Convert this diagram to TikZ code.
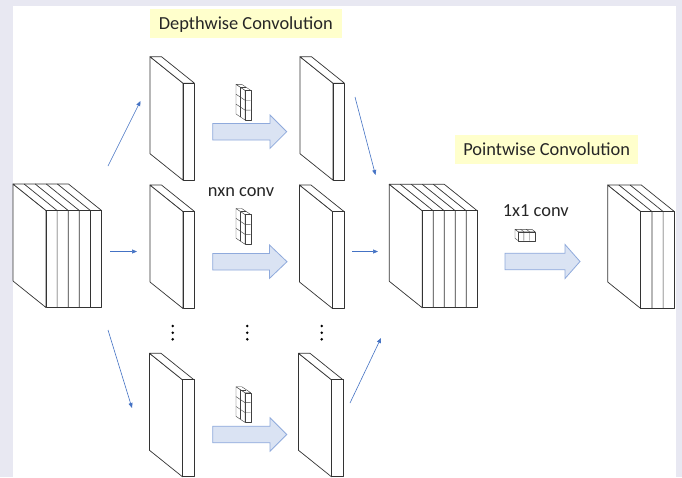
\documentclass[tikz,border=0pt]{standalone}
\RequirePackage{fontspec}
\setmainfont{Carlito}
\RequirePackage{tikz}
\usetikzlibrary{arrows.meta}

\definecolor{bgpanel}{HTML}{E8E8F2}
\definecolor{arrowblue}{HTML}{4472C4}
\definecolor{arrowfill}{HTML}{DAE3F3}
\definecolor{arrowline}{HTML}{8FAADC}
\definecolor{hlyellow}{HTML}{FFFFCC}

\newcommand{\diagfont}{\fontsize{18.4}{22}\selectfont}

% stack of n thin layers: style, back top left x, y, n, width, depth x, depth y, height
\newcommand{\layerstack}[8]{%
    \path[#1] (#2,#3) -- ++(0,#8) -- ++(#6,#7) -- ++(0,-#8) -- cycle;
    \path[#1] (#2,#3) -- ++({#4*#5},0) -- ++(#6,#7) -- ++({-#4*#5},0) -- cycle;
    \path[#1] ({#2+#6},{#3+#7}) rectangle ++({#4*#5},#8);
    \ifnum#4>1
        \foreach \i in {2,...,#4}
            \path[#1,fill=none] ({#2+(\i-1)*#5},#3) -- ++(#6,#7) -- ++(0,#8);
    \fi
}

% n x n filter
\newcommand{\nkernel}[2]{%
    \layerstack{grid}{#1}{#2}{1}{5.7}{9}{6}{29.7}
    \foreach \k in {1,2}
        \draw[grid,fill=none] (#1,{#2+\k*9.9}) -- ++(9,6) -- ++(5.7,0);
    \draw[grid,fill=none] ({#1+4.5},{#2+3}) -- ++(0,29.7);
    \draw[grid,fill=none] ({#1+4.5},{#2+3}) -- ++(5.7,0);
}

% block arrow: start x, head x, tip x, centre y, shaft half, head half
\newcommand{\blockarr}[6]{%
    \draw[bigarr] (#1,{#4-#5}) -- (#2,{#4-#5}) -- (#2,{#4-#6}) -- (#3,#4)
        -- (#2,{#4+#6}) -- (#2,{#4+#5}) -- (#1,{#4+#5}) -- cycle;
}

\begin{document}
\begin{tikzpicture}[x=1pt,y=-1pt,
                    slab/.style={draw=black!80,fill=white,line width=0.7pt,line join=round},
                    grid/.style={draw=black!75,fill=white,line width=0.4pt,line join=round},
                    conn/.style={draw=arrowblue,line width=0.6pt,-{Triangle[length=5pt,width=4pt]}},
                    bigarr/.style={draw=arrowline,fill=arrowfill,line width=0.8pt},
                    hlbox/.style={fill=hlyellow,inner sep=0pt,minimum height=29pt,minimum width=#1,
                                  text height=14.5pt,text depth=2.5pt,font=\diagfont,text=black!85},
                    convlabel/.style={inner sep=0pt,font=\diagfont,text=black!85}]
                    \useasboundingbox (0,0) rectangle (682,477);
                    \fill[bgpanel] (0,0) rectangle (682,477);
                    \fill[white] (12.7,6) rectangle (676,477);

                    % input and output feature maps
                    \layerstack{slab}{13}{184}{5}{11.1}{33}{26.5}{97}
                    \layerstack{slab}{389.3}{184.3}{5}{11}{33}{26.5}{97}
                    \layerstack{slab}{607.7}{185}{3}{11.2}{33}{26.5}{97}

                    % depthwise channels
                    \layerstack{slab}{150}{56.7}{1}{11.5}{33}{26.5}{97}
                    \layerstack{slab}{300}{56.7}{1}{11.5}{33}{26.5}{97}
                    \layerstack{slab}{150}{185}{1}{11.5}{33}{26.5}{97}
                    \layerstack{slab}{299.5}{185}{1}{11.5}{33}{26.5}{97}
                    \layerstack{slab}{149.5}{353.3}{1}{11.5}{33}{26.5}{97}
                    \layerstack{slab}{298.5}{353.3}{1}{11.5}{33}{26.5}{97}

                    \blockarr{212.7}{270}{286.7}{131.7}{8.3}{16.7}
                    \blockarr{212.7}{269.5}{287}{261.7}{8.3}{16.7}
                    \blockarr{212.7}{270}{286.7}{434.5}{8.3}{16.7}
                    \blockarr{505}{565}{580}{261.5}{8.3}{17}

                    \nkernel{236}{84.3}
                    \nkernel{236}{208.5}
                    \nkernel{236}{386.7}
                    \layerstack{grid}{515}{229.3}{3}{5.6}{3.3}{2.4}{9}

                    \foreach \x in {172.7,247.3,321.7}
                        \foreach \y in {326,332.7,339.3}
                            \fill[black] (\x,\y) circle[radius=1.4pt];

                    \node[hlbox=191.7pt] (dwtitle) at (245.8,23.8) {Depthwise Convolution};
                    \node[hlbox=183.3pt] (pwtitle) at (546.7,149.2) {Pointwise Convolution};
                    \node[convlabel,anchor=base] (nxnlabel) at (241,196.5) {nxn conv};
                    \node[convlabel,anchor=base] (onelabel) at (535.8,216.7) {1x1 conv};

                    \coordinate (in1) at (108,166);
                    \coordinate (in2) at (110,251.5);
                    \coordinate (in3) at (108,330);
                    \coordinate (ch1) at (140.5,101);
                    \coordinate (ch2) at (137,251.5);
                    \coordinate (ch3) at (132,408);
                    \coordinate (dw1) at (355,97);
                    \coordinate (dw2) at (352,251.5);
                    \coordinate (dw3) at (350,403);
                    \coordinate (pw1) at (375.5,175);
                    \coordinate (pw2) at (378,251.5);
                    \coordinate (pw3) at (381,338);
                    \draw[conn] (in1) -- (ch1);
                    \draw[conn] (in2) -- (ch2);
                    \draw[conn] (in3) -- (ch3);
                    \draw[conn] (dw1) -- (pw1);
                    \draw[conn] (dw2) -- (pw2);
                    \draw[conn] (dw3) -- (pw3);
                \end{tikzpicture}
\end{document}
